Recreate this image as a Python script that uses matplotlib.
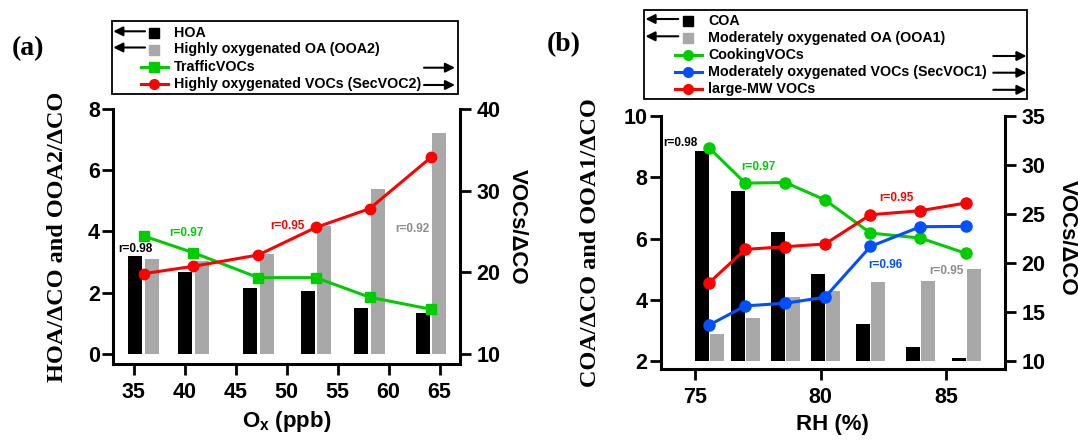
import matplotlib
matplotlib.use("Agg")
import matplotlib.pyplot as plt
from matplotlib.patches import Rectangle

plt.rcParams['font.family'] = ['Liberation Sans', 'DejaVu Sans']
plt.rcParams['font.weight'] = 'bold'
plt.rcParams['axes.labelweight'] = 'bold'
plt.rcParams['mathtext.fontset'] = 'custom'
plt.rcParams['mathtext.rm'] = 'Liberation Sans:bold'
plt.rcParams['mathtext.it'] = 'Liberation Sans:bold'
plt.rcParams['mathtext.bf'] = 'Liberation Sans:bold'
plt.rcParams['mathtext.default'] = 'rm'

# ---- panel (a) data: binned by Ox ----
ox = [35.98, 40.85, 47.22, 52.88, 58.14, 64.16]
hoa = [3.19, 2.69, 2.14, 2.06, 1.49, 1.33]
ooa2 = [3.10, 3.04, 3.27, 4.18, 5.39, 7.23]
traffic_vocs = [24.44, 22.40, 19.34, 19.34, 16.94, 15.47]
secvoc2 = [19.83, 20.73, 22.12, 25.50, 27.79, 34.08]

# ---- panel (b) data: binned by RH ----
rh = [75.57, 77.00, 78.60, 80.18, 81.99, 83.98, 85.81]
coa = [8.87, 7.56, 6.22, 4.85, 3.22, 2.46, 2.11]
ooa1 = [2.89, 3.40, 4.10, 4.29, 4.58, 4.62, 5.00]
cooking_vocs = [31.73, 28.16, 28.22, 26.45, 23.07, 22.56, 20.99]
secvoc1 = [13.71, 15.65, 15.92, 16.54, 21.71, 23.72, 23.75]
large_mw = [18.03, 21.41, 21.68, 21.96, 24.94, 25.35, 26.14]

GREEN = '#00CC00'
RED = '#FF0000'
BLUE = '#0050FF'
GRAY = '#A8A8A8'
GRAYTXT = '#8C8C8C'

W, H = 1078, 441
fig = plt.figure(figsize=(W / 100, H / 100), dpi=100)


def style_axes(ax, ax2):
    for a in (ax, ax2):
        a.spines['top'].set_visible(False)
        for s in ('left', 'right', 'bottom'):
            a.spines[s].set_linewidth(2.2)
        a.tick_params(direction='out', length=8, width=2, labelsize=15.5)
    ax.spines['right'].set_visible(False)
    ax2.spines['left'].set_visible(False)
    ax2.spines['bottom'].set_visible(False)
    ax.tick_params(axis='y', pad=1.5)
    ax2.tick_params(axis='y', pad=4)
    ax.tick_params(axis='x', pad=5)


def rtext(a, x, y, s, col):
    a.text(x, y, s, color=col, fontsize=8.5, weight='bold', ha='center', va='center')


# ================= panel (a) =================
ax = fig.add_axes([113.3 / W, 1 - 364.3 / H, 346.7 / W, 255.3 / H])
ax2 = ax.twinx()
ax.bar([x - 0.81 for x in ox], hoa, width=1.38, color='black')
ax.bar([x + 0.81 for x in ox], ooa2, width=1.38, color=GRAY)
ax2.plot(ox, traffic_vocs, color=GREEN, lw=2.2, marker='s', ms=7)
ax2.plot(ox, secvoc2, color=RED, lw=2.2, marker='o', ms=7.5)
ax.set_xlim(33, 67)
ax.set_ylim(-0.34, 8)
ax2.set_ylim(10 - 0.34 * 3.75, 40)
ax.set_xticks([35, 40, 45, 50, 55, 60, 65])
ax.set_yticks([0, 2, 4, 6, 8])
ax2.set_yticks([10, 20, 30, 40])
style_axes(ax, ax2)
ax.set_xlabel('O$_x$ (ppb)', fontsize=16, weight='bold')
ax.set_ylabel('HOA/\u0394CO and OOA2/\u0394CO', fontsize=17.5,
              family='Liberation Serif', weight='bold')
ax.yaxis.set_label_coords(-0.131, 0.5)
ax2.set_ylabel('VOCs/\u0394CO', fontsize=16, weight='bold', rotation=270, va='center')
ax2.yaxis.set_label_coords(1.164, 0.54)
rtext(ax, 35.17, 3.43, 'r=0.98', 'black')
rtext(ax, 40.17, 3.96, 'r=0.97', GREEN)
rtext(ax, 50.07, 4.18, 'r=0.95', RED)
rtext(ax, 62.29, 4.07, 'r=0.92', GRAYTXT)

# ================= panel (b) =================
bx = fig.add_axes([660.7 / W, 1 - 369 / H, 344.3 / W, 253 / H])
bx2 = bx.twinx()
bx.bar([x - 0.3 for x in rh], [v - 2 for v in coa], bottom=2, width=0.56, color='black')
bx.bar([x + 0.3 for x in rh], [v - 2 for v in ooa1], bottom=2, width=0.56, color=GRAY)
bx2.plot(rh, cooking_vocs, color=GREEN, lw=2.2, marker='o', ms=8)
bx2.plot(rh, secvoc1, color=BLUE, lw=2.2, marker='o', ms=8)
bx2.plot(rh, large_mw, color=RED, lw=2.2, marker='o', ms=8)
bx.set_xlim(73.63, 87.35)
bx.set_ylim(1.75, 10)
bx2.set_ylim(10 - 0.25 * 25 / 8, 35)
bx.set_xticks([75, 80, 85])
bx.set_yticks([2, 4, 6, 8, 10])
bx2.set_yticks([10, 15, 20, 25, 30, 35])
style_axes(bx, bx2)
bx.set_xlabel('RH (%)', fontsize=16, weight='bold')
bx.set_ylabel('COA/\u0394CO and OOA1/\u0394CO', fontsize=17.5,
              family='Liberation Serif', weight='bold')
bx.yaxis.set_label_coords(-0.173, 0.5)
bx2.set_ylabel('VOCs/\u0394CO', fontsize=16, weight='bold', rotation=270, va='center')
bx2.yaxis.set_label_coords(1.18, 0.52)
rtext(bx, 74.43, 9.11, 'r=0.98', 'black')
rtext(bx, 77.52, 8.33, 'r=0.97', GREEN)
rtext(bx, 83.01, 7.31, 'r=0.95', RED)
rtext(bx, 82.57, 5.14, 'r=0.96', BLUE)
rtext(bx, 85.00, 4.94, 'r=0.95', GRAYTXT)

# ================= legends (drawn in pixel space) =================
ov = fig.add_axes([0, 0, 1, 1], zorder=10)
ov.set_xlim(0, W)
ov.set_ylim(H, 0)
ov.axis('off')
ov.patch.set_alpha(0)


def arrow(x_tail, x_tip, y):
    ov.annotate('', xy=(x_tip, y), xytext=(x_tail, y),
                arrowprops=dict(arrowstyle='-|>', color='black', lw=1.5,
                                mutation_scale=14, shrinkA=0, shrinkB=0))


def legend_box(x0, y0, x1, y1, rows, marker_x, line_x, text_x, arr_l, arr_r):
    ov.add_patch(Rectangle((x0, y0), x1 - x0, y1 - y0, fill=False,
                           edgecolor='black', lw=1.3))
    for y, label, kind, col, mk, side in rows:
        if kind == 'bar':
            ov.plot([marker_x], [y], marker='s', ms=6.5, color=col, ls='none')
        else:
            ov.plot(line_x, [y, y], color=col, lw=2.2)
            ov.plot([marker_x], [y], marker=mk, ms=7, color=col, ls='none')
        ov.text(text_x, y, label, fontsize=10.3, weight='bold', va='center', ha='left')
        if side == 'L':
            arrow(arr_l[1], arr_l[0], y - 2)
        else:
            arrow(arr_r[0], arr_r[1], y + 1)


legend_box(111.7, 20.7, 458.3, 94.0,
           [(33.3, 'HOA', 'bar', 'black', 's', 'L'),
            (49.5, 'Highly oxygenated OA (OOA2)', 'bar', GRAY, 's', 'L'),
            (66.7, 'TrafficVOCs', 'line', GREEN, 's', 'R'),
            (84.0, 'Highly oxygenated VOCs (SecVOC2)', 'line', RED, 'o', 'R')],
           153.8, [140.7, 167.7], 174, (113.3, 145), (424, 455))

legend_box(644, 10, 1027.3, 99.3,
           [(21.0, 'COA', 'bar', 'black', 's', 'L'),
            (38.3, 'Moderately oxygenated OA (OOA1)', 'bar', GRAY, 's', 'L'),
            (55.0, 'CookingVOCs', 'line', GREEN, 'o', 'R'),
            (71.7, 'Moderately oxygenated VOCs (SecVOC1)', 'line', BLUE, 'o', 'R'),
            (88.8, 'large-MW VOCs', 'line', RED, 'o', 'R')],
           688, [675, 701.7], 708.3, (645.5, 678.3), (993.3, 1026.5))

ov.text(28, 49, '(a)', fontsize=20, family='Liberation Serif', weight='bold',
        ha='center', va='center')
ov.text(564, 45, '(b)', fontsize=20, family='Liberation Serif', weight='bold',
        ha='center', va='center')

fig.savefig('out.png', dpi=100)
